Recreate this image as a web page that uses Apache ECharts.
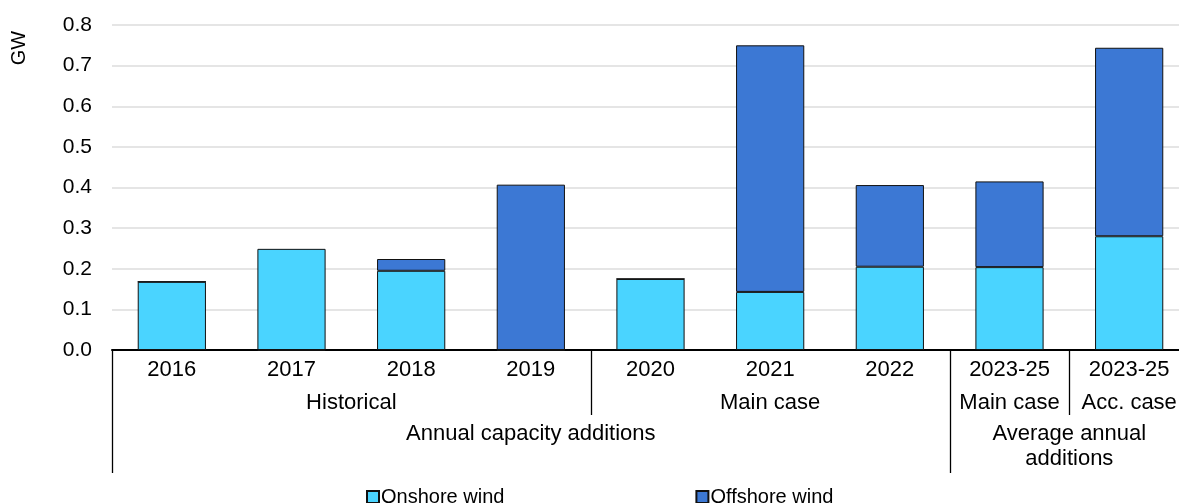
<!DOCTYPE html>
<html>
<head>
<meta charset="utf-8">
<script src="https://cdn.jsdelivr.net/npm/echarts@6/dist/echarts.min.js"></script>
<style>
html,body{margin:0;padding:0;background:#fff;overflow:hidden;}
#chart{width:1179px;height:503px;}
</style>
</head>
<body>
<div id="chart"></div>
<script>
const categories = ['2016','2017','2018','2019','2020','2021','2022','2023-25','2023-25'];
const onshoreWind = [0.168, 0.249, 0.195, -0.002, 0.175, 0.143, 0.205, 0.204, 0.280];
const offshoreWind = [0, -0.002, 0.029, 0.407, 0, 0.607, 0.201, 0.211, 0.464];
const level2Labels = ['Historical', 'Main case', 'Main case', 'Acc. case'];
const level2Spans = [4, 3, 1, 1];
const level3Labels = ['Annual capacity additions', 'Average annual\nadditions'];
const level3Spans = [7, 2];
const yTicks = [0, 0.1, 0.2, 0.3, 0.4, 0.5, 0.6, 0.7, 0.8];
const unitLabel = 'GW';

const FONT = '"Liberation Sans", Arial, sans-serif';
const chart = echarts.init(document.getElementById('chart'), null, {renderer: 'canvas'});

const option = {
  animation: false,
  backgroundColor: '#fff',
  textStyle: {fontFamily: FONT, color: '#000'},
  grid: {left: 112, width: 1077, top: 25, height: 325, containLabel: false, outerBoundsMode: 'none'},
  legend: {
    left: 361, top: 482,
    itemWidth: 12, itemHeight: 12, itemGap: 191,
    icon: 'rect',
    textStyle: {fontFamily: FONT, fontSize: 20, color: '#000', padding: [0, 0, 0, -3]},
    data: ['Onshore wind', 'Offshore wind']
  },
  xAxis: {
    type: 'category',
    data: categories,
    axisLine: {show: true, lineStyle: {color: '#000', width: 2}},
    axisTick: {show: false},
    axisLabel: {fontFamily: FONT, fontSize: 22, color: '#000', margin: 9, interval: 0},
    splitLine: {show: false}
  },
  yAxis: {
    type: 'value',
    min: yTicks[0], max: yTicks[yTicks.length - 1], interval: 0.1,
    axisLine: {show: false},
    axisTick: {show: false},
    axisLabel: {fontFamily: FONT, fontSize: 21, color: '#000', margin: 20,
      formatter: v => v.toFixed(1)},
    splitLine: {show: true, lineStyle: {color: '#dcdcdc', width: 1.5}}
  },
  series: [
    {
      name: 'Onshore wind', type: 'bar', stack: 'total', barWidth: '57%', clip: false,
      itemStyle: {color: '#4AD4FF', borderColor: '#111', borderWidth: 1},
      data: onshoreWind
    },
    {
      name: 'Offshore wind', type: 'bar', stack: 'total', barWidth: '57%', clip: false,
      itemStyle: {color: '#3C78D4', borderColor: '#111', borderWidth: 1},
      data: offshoreWind
    }
  ]
};
chart.setOption(option);

function catX(i) { return chart.convertToPixel({xAxisIndex: 0}, i); }
const band = catX(1) - catX(0);
function boundary(i) { return catX(0) - band / 2 + i * band; }
const axisY = chart.convertToPixel({yAxisIndex: 0}, 0);

const elements = [];
const level2Bottom = axisY + 65;
const level3Bottom = axisY + 123;
const lineStyle = {stroke: '#000', lineWidth: 1.3};

const l3Bounds = [0];
let acc = 0;
level3Spans.forEach(s => { acc += s; l3Bounds.push(acc); });
const l2Bounds = [0];
acc = 0;
level2Spans.forEach(s => { acc += s; l2Bounds.push(acc); });

l2Bounds.forEach(b => {
  if (b >= categories.length) return;
  const full = l3Bounds.indexOf(b) >= 0;
  const x = Math.round(boundary(b)) + 0.5;
  elements.push({type: 'line', shape: {x1: x, y1: axisY, x2: x, y2: full ? level3Bottom : level2Bottom}, style: lineStyle, silent: true});
});

acc = 0;
level2Labels.forEach((lab, k) => {
  const start = acc, end = acc + level2Spans[k];
  acc = end;
  const cx = (boundary(start) + boundary(end)) / 2;
  elements.push({type: 'text', x: cx, y: axisY + 53, style: {text: lab, font: '22px ' + FONT, fill: '#000', align: 'center', verticalAlign: 'middle'}, silent: true});
});
acc = 0;
level3Labels.forEach((lab, k) => {
  const start = acc, end = acc + level3Spans[k];
  acc = end;
  const cx = (boundary(start) + boundary(end)) / 2;
  const multi = lab.indexOf('\n') >= 0;
  elements.push({type: 'text', x: cx, y: multi ? axisY + 96 : axisY + 84, style: {text: lab, font: '22px ' + FONT, fill: '#000', align: 'center', verticalAlign: 'middle', lineHeight: 25}, silent: true});
});

elements.push({type: 'text', x: 19, y: 48, rotation: Math.PI / 2, style: {text: unitLabel, font: '20px ' + FONT, fill: '#000', align: 'center', verticalAlign: 'middle'}, silent: true});

chart.setOption({graphic: {elements: elements}});
</script>
</body>
</html>
